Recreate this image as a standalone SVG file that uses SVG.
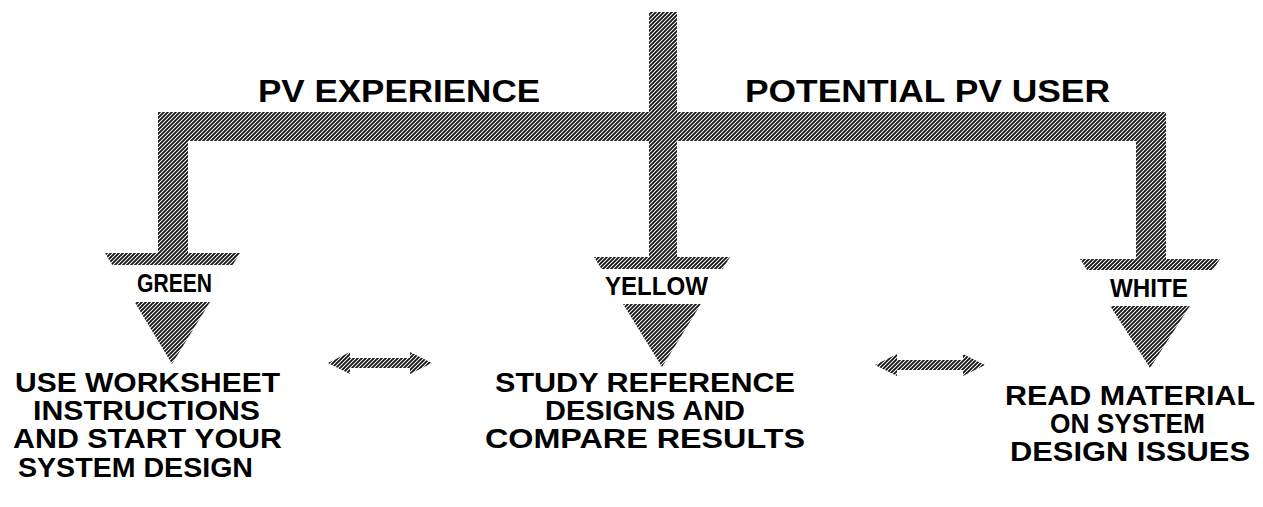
<svg xmlns="http://www.w3.org/2000/svg" width="1263" height="507" viewBox="0 0 1263 507">
<defs>
<pattern id="hatch" patternUnits="userSpaceOnUse" width="4" height="4">
<rect width="4" height="4" fill="#ffffff"/>
<path d="M-1,1 L1,-1 M0,4 L4,0 M3,5 L5,3" stroke="#111" stroke-width="1.8"/>
</pattern>
</defs>
<style>
.h{fill:url(#hatch)}
.band{fill:#ffffff}
.t{font-family:"Liberation Sans",Arial,sans-serif;font-weight:bold;fill:#000}
.big{font-size:32px}
.body{font-size:27px}
.lab{font-size:25px}
</style>
<rect width="1263" height="507" fill="#ffffff"/>
<g id="connectors">
<rect class="h" x="649" y="12" width="28" height="246"/>
<rect class="h" x="158" y="112" width="1008" height="29"/>
<rect class="h" x="158" y="112" width="30" height="142"/>
<rect class="h" x="1136" y="112" width="30" height="148"/>
<polygon class="h" points="105,253 240,253 172,364"/>
<rect class="band" x="100" y="265" width="145" height="37"/>
<polygon class="h" points="594,257 730,257 662,367"/>
<rect class="band" x="590" y="269" width="145" height="35"/>
<polygon class="h" points="1080,259 1220,259 1150,368"/>
<rect class="band" x="1075" y="270" width="150" height="36"/>
<polygon class="h" points="328,363 350,352 350,358 410,358 410,352 432,363 410,374 410,368 350,368 350,374"/>
<polygon class="h" points="875,365 897,354 897,360 963,360 963,354 985,365 963,376 963,370 897,370 897,376"/>
</g>
<g id="label-pv-experience"><text class="t big" x="258" y="102" textLength="282" lengthAdjust="spacingAndGlyphs">PV EXPERIENCE</text></g>
<g id="label-potential"><text class="t big" x="745" y="102" textLength="365" lengthAdjust="spacingAndGlyphs">POTENTIAL PV USER</text></g>
<g id="label-green"><text class="t lab" x="137" y="292" textLength="75" lengthAdjust="spacingAndGlyphs">GREEN</text></g>
<g id="label-yellow"><text class="t lab" x="605" y="295" textLength="103" lengthAdjust="spacingAndGlyphs">YELLOW</text></g>
<g id="label-white"><text class="t lab" x="1110" y="297" textLength="78" lengthAdjust="spacingAndGlyphs">WHITE</text></g>
<g id="node-worksheet">
<text class="t body" x="15" y="392" textLength="265" lengthAdjust="spacingAndGlyphs">USE WORKSHEET</text>
<text class="t body" x="33" y="420" textLength="227" lengthAdjust="spacingAndGlyphs">INSTRUCTIONS</text>
<text class="t body" x="13" y="448" textLength="269" lengthAdjust="spacingAndGlyphs">AND START YOUR</text>
<text class="t body" x="18" y="477" textLength="235" lengthAdjust="spacingAndGlyphs">SYSTEM DESIGN</text>
</g>
<g id="node-reference">
<text class="t body" x="495" y="392" textLength="300" lengthAdjust="spacingAndGlyphs">STUDY REFERENCE</text>
<text class="t body" x="545" y="420" textLength="200" lengthAdjust="spacingAndGlyphs">DESIGNS AND</text>
<text class="t body" x="485" y="448" textLength="320" lengthAdjust="spacingAndGlyphs">COMPARE RESULTS</text>
</g>
<g id="node-material">
<text class="t body" x="1005" y="405" textLength="250" lengthAdjust="spacingAndGlyphs">READ MATERIAL</text>
<text class="t body" x="1050" y="433" textLength="155" lengthAdjust="spacingAndGlyphs">ON SYSTEM</text>
<text class="t body" x="1010" y="461" textLength="240" lengthAdjust="spacingAndGlyphs">DESIGN ISSUES</text>
</g>
</svg>
